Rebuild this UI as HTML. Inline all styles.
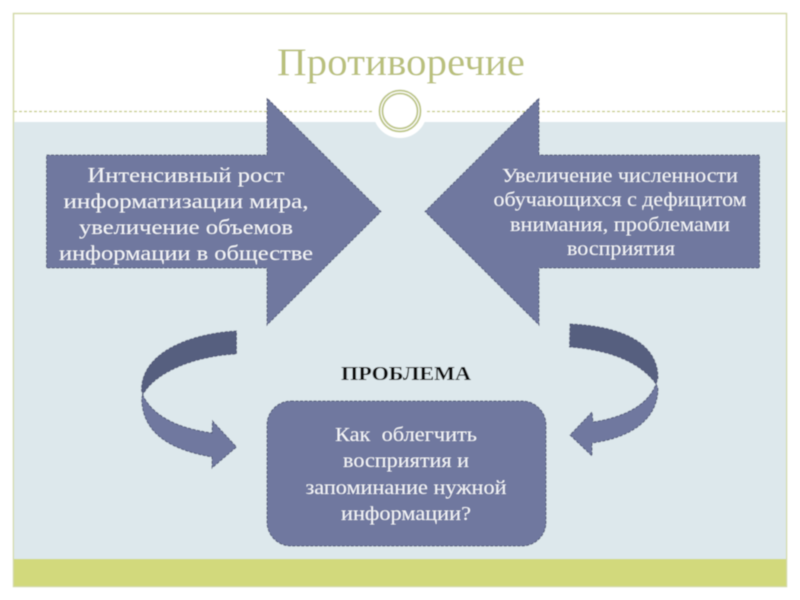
<!DOCTYPE html>
<html><head><meta charset="utf-8"><style>
html,body{margin:0;padding:0;background:#fff;width:800px;height:600px;overflow:hidden}
svg{display:block}
text{font-family:"Liberation Serif",serif;text-anchor:middle}
</style></head><body>
<svg width="800" height="600" viewBox="0 0 800 600" xmlns="http://www.w3.org/2000/svg">
<defs><filter id="b" x="0" y="0" width="100%" height="100%"><feGaussianBlur stdDeviation="0.4"/></filter></defs>
<g filter="url(#b)">
<rect width="800" height="600" fill="#fff"/>
<rect x="13.5" y="13.5" width="773" height="573" fill="#fff" stroke="#d3d9a6" stroke-width="1.5"/>
<rect x="14" y="122" width="772" height="437" fill="#dde8ec"/>
<rect x="14" y="559" width="772" height="27" fill="#d2d97c"/>
<line x1="14" y1="111.5" x2="373" y2="111.5" stroke="#c2c97c" stroke-width="1.2" stroke-dasharray="3 2"/>
<line x1="427" y1="111.5" x2="786" y2="111.5" stroke="#c2c97c" stroke-width="1.2" stroke-dasharray="3 2"/>
<circle cx="400" cy="111" r="27" fill="#fff"/>
<circle cx="400" cy="111" r="20.5" fill="none" stroke="#bcc585" stroke-width="1.8"/>
<circle cx="400" cy="111" r="17.5" fill="none" stroke="#bcc585" stroke-width="1.8"/>
<text x="401" y="75" font-size="39" fill="#b9c07c" textLength="248" lengthAdjust="spacingAndGlyphs">Противоречие</text>
<g stroke="#4d5577" stroke-width="1" stroke-dasharray="3 1.5">
<polygon points="46.5,155 267,155 267,98 381,211.5 267,325 267,268 46.5,268" fill="#6f789f"/>
<polygon points="759.5,155 539,155 539,98 425,211.5 539,325 539,268 759.5,268" fill="#6f789f"/>
<rect x="267" y="401" width="279" height="145" rx="24" ry="24" fill="#6f789f"/>
<path d="M236.5,331 C195,333 142,350 141.5,390 L142.7,395 C155,372 195,356 236.5,354 Z" fill="#565e7f"/>
<path d="M142.7,395 L141.7,398 C142,430 165,449 212,457 L212,468 L236.5,447 L212.5,421 L212,433 C185,429 155,420 142.7,395 Z" fill="#6f789f"/>
<path d="M570,324 C620,326 658,342 658,378 L656,384 C640,362 610,350 569.5,347 Z" fill="#565e7f"/>
<path d="M656,384 L658,388 C658,420 630,438 592,443 L592,456 L570,435 L592,412 L593,422 C625,417 648,405 656,384 Z" fill="#6f789f"/>
</g>
<g fill="#f4f5f8" font-size="21.5">
<text x="186" y="182" textLength="197" lengthAdjust="spacingAndGlyphs">Интенсивный рост</text>
<text x="186" y="208" textLength="245" lengthAdjust="spacingAndGlyphs">информатизации мира,</text>
<text x="186" y="234" textLength="214" lengthAdjust="spacingAndGlyphs">увеличение объемов</text>
<text x="186" y="260" textLength="254" lengthAdjust="spacingAndGlyphs">информации в обществе</text>
</g>
<g fill="#f4f5f8" font-size="19.5">
<text x="620" y="182" textLength="236" lengthAdjust="spacingAndGlyphs">Увеличение численности</text>
<text x="620" y="206" textLength="253" lengthAdjust="spacingAndGlyphs">обучающихся с дефицитом</text>
<text x="620" y="231" textLength="220" lengthAdjust="spacingAndGlyphs">внимания, проблемами</text>
<text x="621" y="255" textLength="108" lengthAdjust="spacingAndGlyphs">восприятия</text>
</g>
<text x="406" y="380" font-size="19.5" font-weight="bold" fill="#111" textLength="130" lengthAdjust="spacingAndGlyphs">ПРОБЛЕМА</text>
<g fill="#f4f5f8" font-size="19.5">
<text x="406" y="441" textLength="142" lengthAdjust="spacingAndGlyphs" xml:space="preserve">Как  облегчить</text>
<text x="406" y="467" textLength="126" lengthAdjust="spacingAndGlyphs">восприятия и</text>
<text x="406" y="494" textLength="201" lengthAdjust="spacingAndGlyphs">запоминание нужной</text>
<text x="406" y="520" textLength="130" lengthAdjust="spacingAndGlyphs">информации?</text>
</g>
</g>
</svg>
</body></html>
